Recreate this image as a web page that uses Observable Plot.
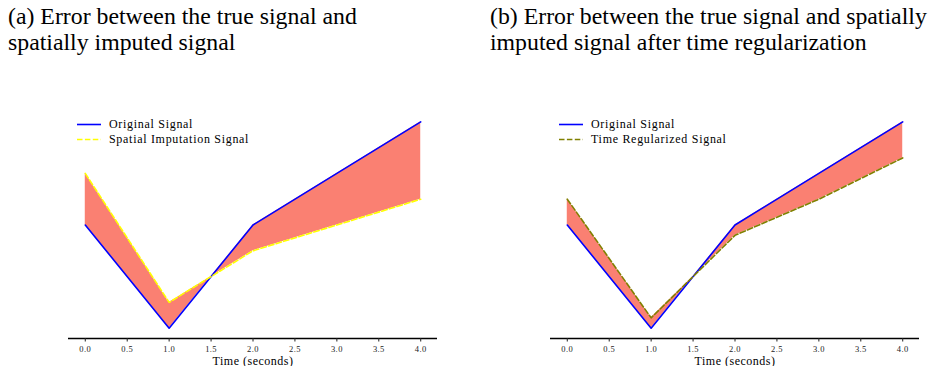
<!DOCTYPE html>
<html>
<head>
<meta charset="utf-8">
<script src="https://cdn.jsdelivr.net/npm/d3@7"></script>
<script src="https://cdn.jsdelivr.net/npm/@observablehq/plot@0.6"></script>
<style>
  html, body { margin: 0; padding: 0; background: #fff; }
  #root { position: relative; width: 930px; height: 366px; overflow: hidden; }
</style>
</head>
<body>
<div id="root"></div>
<script>
// ---- data ----
const times = [0, 1, 2, 3, 4];
const original = [1, -1, 1, 2, 3];
const spatialImputed = [2, -0.5, 0.5, 1, 1.5];
const timeRegularized = [1.5, -0.8, 0.8, 1.5, 2.3];
const xTicks = [0, 0.5, 1, 1.5, 2, 2.5, 3, 3.5, 4];
const xDomain = [-0.2, 4.2];
const yDomain = [-1.2, 3.2];

const titles = [
  ["(a) Error between the true signal and", "spatially imputed signal"],
  ["(b) Error between the true signal and spatially", "imputed signal after time regularization"]
];
const legendLabels = [
  ["Original Signal", "Spatial Imputation Signal"],
  ["Original Signal", "Time Regularized Signal"]
];

const SERIF = "'Liberation Serif', 'Times New Roman', Tinos, Times, serif";
const root = document.getElementById("root");

function makePanel(imputed, imputedColor, opts) {
  const table = times.map((t, i) => ({t, orig: original[i], imp: imputed[i]}));
  const chart = Plot.plot({
    width: 465,
    height: 271,
    marginLeft: opts.marginLeft,
    marginRight: opts.marginRight,
    marginTop: 16,
    marginBottom: 28,
    style: {background: "white", overflow: "visible", fontFamily: SERIF},
    x: {domain: xDomain},
    y: {domain: yDomain, axis: null},
    marks: [
      Plot.areaY(table, {x: "t", y1: "orig", y2: "imp", fill: "#FA8072"}),
      Plot.lineY(table, {x: "t", y: "orig", stroke: "#0000ff", strokeWidth: 1.6}),
      Plot.lineY(table, {x: "t", y: "imp", stroke: imputedColor, strokeWidth: 1.6, strokeDasharray: "5.5,2.4"}),
      Plot.ruleY([yDomain[0]], {stroke: "#000", strokeWidth: 1.6}),
      Plot.axisX({
        ticks: xTicks,
        tickFormat: d3.format(".1f"),
        tickSize: 3.5,
        tickPadding: 4,
        fontFamily: SERIF,
        fontSize: 8.5,
        color: "#222",
        label: null
      }),
      Plot.axisX({
        ticks: [],
        label: "Time (seconds)",
        labelAnchor: "center",
        labelArrow: false,
        labelOffset: 26,
        fontFamily: SERIF,
        fontSize: 12
      })
    ]
  });
  chart.querySelectorAll("text").forEach(el => {
    el.style.fontFamily = SERIF;
  });
  chart.querySelectorAll('[aria-label="x-axis tick label"] text').forEach(el => {
    el.style.letterSpacing = "0.4px";
  });
  chart.querySelectorAll('[aria-label="x-axis label"] text, text[aria-label="x-axis label"]').forEach(el => {
    el.style.letterSpacing = "0.5px";
    el.style.fontSize = "12px";
    el.setAttribute("fill", "#000");
  });
  const wrap = document.createElement("div");
  wrap.style.position = "absolute";
  wrap.style.top = "95px";
  wrap.style.left = opts.left + "px";
  wrap.appendChild(chart);
  root.appendChild(wrap);
}

function addTitle(lines, left) {
  const d = document.createElement("div");
  d.style.position = "absolute";
  d.style.left = left + "px";
  d.style.top = "4px";
  d.style.fontFamily = SERIF;
  d.style.fontSize = "23.8px";
  d.style.lineHeight = "25.5px";
  d.style.whiteSpace = "nowrap";
  d.style.color = "#000";
  lines.forEach(l => {
    const r = document.createElement("div");
    r.textContent = l;
    d.appendChild(r);
  });
  root.appendChild(d);
}

function addLegend(labels, colors, dashes, left, top) {
  const d = document.createElement("div");
  d.style.position = "absolute";
  d.style.left = left + "px";
  d.style.top = top + "px";
  d.style.fontFamily = SERIF;
  d.style.fontSize = "12px";
  d.style.letterSpacing = "0.7px";
  d.style.color = "#000";
  labels.forEach((lab, i) => {
    const row = document.createElement("div");
    row.style.height = "15px";
    row.style.lineHeight = "15px";
    row.style.display = "flex";
    row.style.alignItems = "center";
    row.style.whiteSpace = "nowrap";
    row.innerHTML = `<svg width="24" height="15" style="margin-right:8px;flex:none"><line x1="0" x2="24" y1="7.5" y2="7.5" stroke="${colors[i]}" stroke-width="1.6" ${dashes[i] ? 'stroke-dasharray="5.5,2.4"' : ''}/></svg><span>${lab}</span>`;
    d.appendChild(row);
  });
  root.appendChild(d);
}

makePanel(spatialImputed, "#ffff00", {left: 0, marginLeft: 68, marginRight: 28});
makePanel(timeRegularized, "#808000", {left: 465, marginLeft: 85, marginRight: 11});

addTitle(titles[0], 8);
addTitle(titles[1], 490);

addLegend(legendLabels[0], ["#0000ff", "#ffff00"], [false, true], 77, 116.5);
addLegend(legendLabels[1], ["#0000ff", "#808000"], [false, true], 559, 116.5);
</script>
</body>
</html>
